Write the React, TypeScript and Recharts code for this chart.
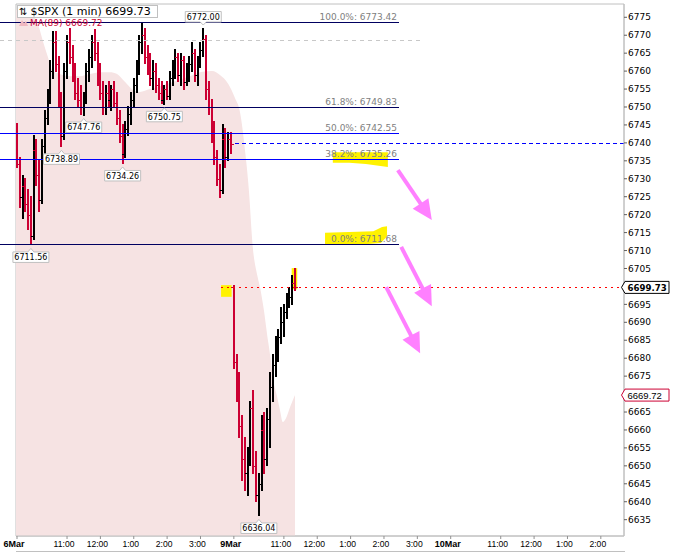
import React from 'react';
import {
  ComposedChart,
  Area,
  Bar,
  XAxis,
  YAxis,
  ReferenceLine,
  ReferenceArea,
  ReferenceDot,
} from 'recharts';

const FONT = '"DejaVu Sans", Verdana, sans-serif';
const AXFONT = '"Liberation Sans", Arial, sans-serif';
const UP = '#000000';
const DOWN = '#cc0033';
const YELLOW = '#fff200';
const PINK = '#ff80ff';
const FRAME = '#c0c0c0';

// time axis: minutes on a compressed trading-time axis (6Mar 9:30 = 0, 9Mar 9:30 = 390, 10Mar 9:30 = 780)
const SESSION_START_T = [0, 390];
const BAR_MINUTES = 5;

// [open, high, low, close] 5-minute bars
const MAR6_BARS: number[][] = [
  [6744.5, 6745.5, 6733, 6734], [6734, 6736, 6722, 6725], [6725, 6731, 6719, 6728], [6728, 6730, 6721, 6723],
  [6723, 6727, 6716, 6720], [6720, 6725, 6711.56, 6714], [6714, 6742, 6713, 6738], [6738, 6741, 6728, 6731],
  [6731, 6735, 6721, 6724], [6724, 6741, 6723, 6739], [6739, 6749, 6737, 6747], [6747, 6755, 6745, 6753],
  [6753, 6763, 6751, 6760], [6760, 6771, 6758, 6768], [6768, 6771, 6760, 6762], [6762, 6764, 6750, 6752],
  [6752, 6754, 6738.89, 6742], [6742, 6762, 6741, 6760], [6760, 6770, 6758, 6768], [6768, 6771.9, 6762, 6764],
  [6764, 6767, 6757, 6759], [6759, 6762, 6752, 6754], [6754, 6758, 6750, 6752], [6752, 6756, 6748, 6750],
  [6750, 6754, 6747.76, 6753], [6753, 6762, 6751, 6760], [6760, 6766, 6757, 6764], [6764, 6770, 6761, 6768],
  [6768, 6771.6, 6763, 6765], [6765, 6768, 6756, 6758], [6758, 6762, 6752, 6754], [6754, 6757, 6748, 6750],
  [6750, 6756, 6748, 6754], [6754, 6757, 6750, 6752], [6752, 6756, 6749, 6755], [6755, 6757, 6750, 6751],
  [6751, 6754, 6745, 6747], [6747, 6749, 6740, 6742], [6742, 6745, 6734.26, 6737], [6737, 6746, 6736, 6744],
  [6744, 6750, 6742, 6748], [6748, 6754, 6745, 6752], [6752, 6758, 6750, 6756], [6756, 6763, 6754, 6761],
  [6761, 6770, 6759, 6768], [6768, 6773.42, 6765, 6770], [6770, 6772, 6762, 6764], [6764, 6767, 6759, 6761],
  [6761, 6765, 6756, 6758], [6758, 6763, 6755, 6760], [6760, 6762, 6754, 6756], [6756, 6758, 6752, 6754],
  [6754, 6757, 6751, 6752], [6752, 6756, 6750.75, 6755], [6755, 6757, 6752, 6753], [6753, 6760, 6752, 6758],
  [6758, 6763, 6756, 6761], [6761, 6766, 6758, 6764], [6764, 6765, 6757, 6759], [6759, 6765, 6756, 6763],
  [6763, 6764, 6755, 6757], [6757, 6762, 6756, 6760], [6760, 6764, 6757, 6762], [6762, 6768, 6760, 6765],
  [6765, 6766, 6757, 6759], [6759, 6764, 6756, 6762], [6762, 6768, 6761, 6766], [6766, 6772, 6764, 6769],
  [6769, 6770, 6752, 6755], [6755, 6757, 6748, 6750], [6750, 6752, 6740, 6742], [6742, 6746, 6734, 6736],
  [6736, 6738, 6728, 6730], [6730, 6734, 6724.7, 6727], [6727, 6745, 6726, 6741], [6741, 6744, 6733, 6736],
  [6736, 6743, 6735, 6741], [6741, 6743, 6737, 6739.8],
];

const MAR9_BARS: number[][] = [
  [6699.7, 6700.3, 6677, 6679], [6679, 6681, 6668, 6672], [6672, 6676, 6658, 6661], [6661, 6664, 6646, 6652],
  [6652, 6658, 6643, 6648], [6648, 6655, 6641.7, 6652], [6652, 6668, 6650, 6666], [6666, 6671, 6648, 6650],
  [6650, 6654, 6640, 6642], [6642, 6648, 6636.04, 6645], [6645, 6664, 6643, 6660], [6660, 6665, 6648, 6652],
  [6652, 6666, 6650, 6663], [6663, 6676, 6655, 6672], [6672, 6681, 6668, 6678], [6678, 6686, 6675, 6683],
  [6683, 6688, 6679, 6686], [6686, 6694, 6684, 6690], [6690, 6695, 6686, 6693], [6693, 6698, 6691, 6696],
  [6696, 6699.8, 6694, 6697], [6697, 6703, 6695, 6701], [6701, 6705, 6699, 6699.73],
];

// MA(89) read along its upper edge
const MA_T = [-1.8, 14, 29, 38, 47, 56, 63, 77, 96, 113, 131, 149, 167, 180, 194, 209, 221, 239, 257, 284, 311, 329,
  351, 365, 380, 392, 401, 410, 417, 424, 432, 437, 444, 450, 456, 459, 468, 473, 478, 484, 491, 500];
const MA_VALUES = [6777, 6776.5, 6775.4, 6772.9, 6768.1, 6763.7, 6760.3, 6759.2, 6758.6, 6758.6, 6759.2, 6759.7,
  6759.7, 6759.2, 6757, 6754.7, 6754.2, 6755, 6755.8, 6757.2, 6758.6, 6759.7, 6760, 6758.9, 6756.4, 6752.5, 6748.6,
  6738, 6726.9, 6711, 6703.2, 6699.8, 6693.4, 6686.4, 6680, 6675.8, 6669.1, 6665.5, 6662.2, 6663.3, 6666.3, 6669.72];

const X_TICKS = [0, 90, 150, 210, 270, 330, 390, 480, 540, 600, 660, 720, 780, 870, 930, 990, 1050];
const X_TICK_LABELS = ['6Mar', '11:00', '12:00', '1:00', '2:00', '3:00', '9Mar', '11:00', '12:00', '1:00', '2:00',
  '3:00', '10Mar', '11:00', '12:00', '1:00', '2:00'];
const Y_TICKS = [6635, 6640, 6645, 6650, 6655, 6660, 6665, 6675, 6680, 6685, 6690, 6695, 6705, 6710, 6715, 6720,
  6725, 6730, 6735, 6740, 6745, 6750, 6755, 6760, 6765, 6770, 6775];

const X_MIN = -1.8;
const X_MAX = 1091.7;
const Y_MIN = 6630.45;
const Y_MAX = 6778.7;

const FIB_LABELS = ['100.0%', '61.8%', '50.0%', '38.2%', '0.0%'];
const FIB_VALUES = [6773.42, 6749.83, 6742.55, 6735.26, 6711.68];
const FIB_COLORS = ['#000060', '#000060', '#0000ff', '#0000ff', '#000060'];
const FIB_START_T = -30.6;
const FIB_END_T = 687;
const FIB_LABEL_T = 683.5;

const CALLOUT_T = [335, 120, 80, 190, 265, 25, 435];
const CALLOUT_PRICE = [6772.0, 6747.76, 6738.89, 6734.26, 6750.75, 6711.56, 6636.04];
const CALLOUT_ABOVE = [true, false, false, false, false, false, false];

const LAST_PRICE = 6699.73;
const MA_LAST = 6669.72;
const PREV_CLOSE = 6739.8;
const GREY_LEVEL = 6768.4;

// pink arrows: [t start, price start, t tip, price tip]
const ARROWS = [
  [685, 6732.4, 746, 6718.5],
  [691, 6711.0, 746, 6694.5],
  [664, 6699.8, 725, 6681.4],
];

// yellow highlights: [t1, t2, price low, price high]
const HL_OPEN = [367, 386, 6697.1, 6700.35];
const HL_LAST = [494, 504, 6699.2, 6705.1];
const HL_382 = [568, 667, 6733.3, 6737.4];
const HL_0 = [554, 665.5, 6711.6, 6716.8];

type Row = { t: number; o?: number; h?: number; l?: number; c?: number; range?: number[]; ma?: number };

const buildData = (): Row[] => {
  const map = new Map<number, Row>();
  const addBars = (bars: number[][], start: number) =>
    bars.forEach((b, i) => {
      const t = start + i * BAR_MINUTES;
      map.set(t, { t, o: b[0], h: b[1], l: b[2], c: b[3], range: [b[2], b[1]] });
    });
  addBars(MAR6_BARS, SESSION_START_T[0]);
  addBars(MAR9_BARS, SESSION_START_T[1]);
  MA_T.forEach((t, i) => {
    const r = map.get(t) || { t };
    r.ma = MA_VALUES[i];
    map.set(t, r);
  });
  return Array.from(map.values()).sort((a, b) => a.t - b.t);
};

const DATA = buildData();

const OhlcShape = (props: any) => {
  const { x, y, width, height, payload } = props;
  if (!payload || payload.o == null || !isFinite(y) || !isFinite(height)) return null;
  const top = Math.min(y, y + height);
  const bot = Math.max(y, y + height);
  const cx = Math.round(x + width / 2);
  const rng = payload.h - payload.l;
  const py = (v: number) => Math.round(rng > 0 ? top + ((payload.h - v) / rng) * (bot - top) : top);
  const color = payload.c >= payload.o ? UP : DOWN;
  return (
    <g stroke={color} shapeRendering="crispEdges">
      <line x1={cx} x2={cx} y1={top - 0.5} y2={bot + 0.5} strokeWidth={2} />
      <line x1={cx - 3} x2={cx} y1={py(payload.o)} y2={py(payload.o)} strokeWidth={1} />
      <line x1={cx} x2={cx + 3} y1={py(payload.c)} y2={py(payload.c)} strokeWidth={1} />
    </g>
  );
};

const makeCallout = (text: string, above: boolean) => (props: any) => {
  const { cx, cy } = props;
  if (!isFinite(cx) || !isFinite(cy)) return null;
  const w = 36;
  const h = 10.5;
  const left = cx - w / 2;
  const right = cx + w / 2;
  let d: string;
  let textY: number;
  if (above) {
    const bottom = cy - 6;
    const top = bottom - h;
    d = `M${left},${top} H${right} V${bottom} H${cx + 3} L${cx},${cy - 3} L${cx - 3},${bottom} H${left} Z`;
    textY = top + 8.3;
  } else {
    const top = cy + 7;
    const bottom = top + h;
    d = `M${left},${top} H${cx - 3} L${cx},${cy + 3.5} L${cx + 3},${top} H${right} V${bottom} H${left} Z`;
    textY = top + 8.3;
  }
  return (
    <g>
      <path d={d} fill="#ffffff" stroke={FRAME} strokeWidth={1} />
      <text x={cx} y={textY} textAnchor="middle" fontFamily={FONT} fontSize={8} fill="#000">
        {text}
      </text>
    </g>
  );
};

const makeFibLabel = (text: string) => (props: any) => {
  const { cx, cy } = props;
  if (!isFinite(cx) || !isFinite(cy)) return null;
  return (
    <text x={cx} y={cy - 3} textAnchor="end" fontFamily={FONT} fontSize={9} fill="#808080">
      {text}
    </text>
  );
};

const makePriceTag = (text: string, color: string, bold: boolean) => (props: any) => {
  const { cx, cy } = props;
  if (!isFinite(cx) || !isFinite(cy)) return null;
  const l = cx + 1;
  const r = cx + 45;
  const d = `M${cx - 2.5},${cy} L${l},${cy - 6} H${r} V${cy + 6} H${l} Z`;
  return (
    <g>
      <path d={d} fill="#ffffff" stroke={color} strokeWidth={1} />
      <text
        x={l + 2.5}
        y={cy + 3.5}
        fontFamily={bold ? FONT : AXFONT}
        fontSize={bold ? 8.6 : 9.5}
        fontWeight={bold ? 'bold' : 'normal'}
        fill="#000"
      >
        {text}
      </text>
    </g>
  );
};

const ArrowShape = (p: any) => {
  const { x1, y1, x2, y2 } = p;
  if (![x1, y1, x2, y2].every((v) => isFinite(v))) return null;
  const dx = x2 - x1;
  const dy = y2 - y1;
  const len = Math.hypot(dx, dy) || 1;
  const ux = dx / len;
  const uy = dy / len;
  const headL = 20;
  const headW = 9.5;
  const bx = x2 - ux * headL;
  const by = y2 - uy * headL;
  const px = -uy;
  const py = ux;
  return (
    <g>
      <line x1={x1} y1={y1} x2={bx + ux * 2} y2={by + uy * 2} stroke={PINK} strokeWidth={4} />
      <polygon
        points={`${x2},${y2} ${bx + px * headW},${by + py * headW} ${bx - px * headW},${by - py * headW}`}
        fill={PINK}
      />
    </g>
  );
};

const brushShape = (pts: number[][]) => (p: any) => {
  const { x, y, width, height } = p;
  if (![x, y, width, height].every((v) => isFinite(v))) return null;
  const d = pts.map((q, i) => `${i ? 'L' : 'M'}${x + q[0] * width},${y + q[1] * height}`).join(' ') + ' Z';
  return <path d={d} fill={YELLOW} />;
};

const XTick = (props: any) => {
  const { x, y, payload } = props;
  const idx = X_TICKS.indexOf(payload.value);
  const label = idx >= 0 ? X_TICK_LABELS[idx] : '';
  const bold = label.indexOf('Mar') >= 0;
  return (
    <text
      x={x}
      y={y}
      dy="0.71em"
      dx={-3}
      textAnchor="middle"
      fontFamily={AXFONT}
      fontSize={bold ? 9 : 8.6}
      fontWeight={bold ? 'bold' : 'normal'}
      fill="#000"
    >
      {label}
    </text>
  );
};

export default function App() {
  return (
    <div style={{ position: 'absolute', left: 0, top: 0, width: 692, height: 552, background: '#fff', overflow: 'hidden' }}>
      <ComposedChart
        width={692}
        height={552}
        data={DATA}
        margin={{ top: 4, right: 0, bottom: 0, left: 16 }}
      >
        <XAxis
          dataKey="t"
          type="number"
          domain={[X_MIN, X_MAX]}
          ticks={X_TICKS}
          interval={0}
          allowDataOverflow
          height={16}
          axisLine={{ stroke: FRAME }}
          tickLine={{ stroke: '#909090' }}
          tickSize={3}
          tickMargin={2}
          tick={<XTick />}
        />
        <YAxis
          orientation="right"
          type="number"
          domain={[Y_MIN, Y_MAX]}
          ticks={Y_TICKS}
          interval={0}
          allowDataOverflow
          width={68}
          axisLine={{ stroke: FRAME }}
          tickLine={{ stroke: '#606060' }}
          tickSize={3}
          tickMargin={1}
          tick={{ fontSize: 9, fontFamily: FONT, fill: '#000' }}
        />
        <ReferenceArea
          x1={X_MIN}
          x2={X_MAX}
          y1={Y_MIN}
          y2={Y_MAX}
          fill="none"
          stroke={FRAME}
          ifOverflow="visible"
        />
        <Area
          dataKey="ma"
          type="monotone"
          stroke="none"
          fill="#f6e3e3"
          fillOpacity={1}
          connectNulls
          isAnimationActive={false}
          dot={false}
          activeDot={false}
        />
        <ReferenceLine
          segment={[{ x: FIB_START_T, y: GREY_LEVEL }, { x: 724.8, y: GREY_LEVEL }]}
          stroke="#c8c8c8"
          strokeDasharray="4 4"
          shapeRendering="crispEdges"
          ifOverflow="visible"
        />
        {FIB_VALUES.map((v, i) => (
          <ReferenceLine
            key={'fib' + i}
            segment={[{ x: FIB_START_T, y: v }, { x: FIB_END_T, y: v }]}
            stroke={FIB_COLORS[i]}
            strokeWidth={1}
            shapeRendering="crispEdges"
            ifOverflow="visible"
          />
        ))}
        <ReferenceArea x1={HL_OPEN[0]} x2={HL_OPEN[1]} y1={HL_OPEN[2]} y2={HL_OPEN[3]} fill={YELLOW} fillOpacity={1} stroke="none" ifOverflow="visible" />
        <ReferenceArea x1={HL_LAST[0]} x2={HL_LAST[1]} y1={HL_LAST[2]} y2={HL_LAST[3]} fill={YELLOW} fillOpacity={1} stroke="none" ifOverflow="visible" />
        <ReferenceArea
          x1={HL_382[0]}
          x2={HL_382[1]}
          y1={HL_382[2]}
          y2={HL_382[3]}
          ifOverflow="visible"
          shape={brushShape([[0, 0], [1, 0], [1, 1], [0.6, 0.8], [0.3, 0.72], [0, 0.72]])}
        />
        <ReferenceArea
          x1={HL_0[0]}
          x2={HL_0[1]}
          y1={HL_0[2]}
          y2={HL_0[3]}
          ifOverflow="visible"
          shape={brushShape([[0, 0.35], [0.78, 0.28], [0.92, 0.05], [1, 0], [1, 0.55], [0.9, 0.9], [0.55, 1], [0, 1]])}
        />
        <ReferenceLine
          segment={[{ x: 392, y: PREV_CLOSE }, { x: X_MAX, y: PREV_CLOSE }]}
          stroke="#0000ff"
          strokeDasharray="4 3"
          shapeRendering="crispEdges"
          ifOverflow="visible"
        />
        <ReferenceLine
          segment={[{ x: 367, y: LAST_PRICE }, { x: X_MAX, y: LAST_PRICE }]}
          stroke="#ff0000"
          strokeDasharray="2 4"
          shapeRendering="crispEdges"
          ifOverflow="visible"
        />
        <Bar dataKey="range" barSize={3} isAnimationActive={false} shape={<OhlcShape />} />
        {FIB_VALUES.map((v, i) => (
          <ReferenceDot
            key={'fl' + i}
            x={FIB_LABEL_T}
            y={v}
            ifOverflow="visible"
            shape={makeFibLabel(`${FIB_LABELS[i]}: ${v.toFixed(2)}`)}
          />
        ))}
        {CALLOUT_T.map((t, i) => (
          <ReferenceDot
            key={'co' + i}
            x={t}
            y={CALLOUT_PRICE[i]}
            ifOverflow="visible"
            shape={makeCallout(CALLOUT_PRICE[i].toFixed(2), CALLOUT_ABOVE[i])}
          />
        ))}
        {ARROWS.map((a, i) => (
          <ReferenceLine
            key={'ar' + i}
            segment={[{ x: a[0], y: a[1] }, { x: a[2], y: a[3] }]}
            ifOverflow="visible"
            shape={ArrowShape}
          />
        ))}
        <ReferenceDot x={X_MAX} y={LAST_PRICE} ifOverflow="visible" shape={makePriceTag(LAST_PRICE.toFixed(2), '#000000', true)} />
        <ReferenceDot x={X_MAX} y={MA_LAST} ifOverflow="visible" shape={makePriceTag(MA_LAST.toFixed(2), '#cc0033', false)} />
      </ComposedChart>
      <div
        style={{
          position: 'absolute',
          left: 17,
          top: 5,
          width: 141,
          height: 13,
          border: '1px solid ' + FRAME,
          background: '#fff',
          boxSizing: 'border-box',
          fontFamily: FONT,
          fontSize: 11,
          lineHeight: '11px',
          whiteSpace: 'nowrap',
          color: '#000',
          overflow: 'hidden',
        }}
      >
        <span style={{ marginLeft: 1, marginRight: 3, fontSize: 10 }}>⇅</span>
        <span>$SPX (1 min) 6699.73</span>
      </div>
      <div
        style={{
          position: 'absolute',
          left: 19,
          top: 18,
          height: 10,
          fontFamily: FONT,
          fontSize: 9,
          lineHeight: '10px',
          whiteSpace: 'nowrap',
          color: '#cc0033',
        }}
      >
        <svg width={9} height={7} style={{ marginRight: 2, verticalAlign: 'baseline' }}>
          <path d="M0,7 L3,1 L5,4 L7,2 L9,7 Z" fill="#f0b8c0" />
        </svg>
        <span>MA(89) {MA_LAST.toFixed(2)}</span>
      </div>
      <div style={{ position: 'absolute', left: 16, top: 551, width: 609, height: 1, background: FRAME }} />
    </div>
  );
}
